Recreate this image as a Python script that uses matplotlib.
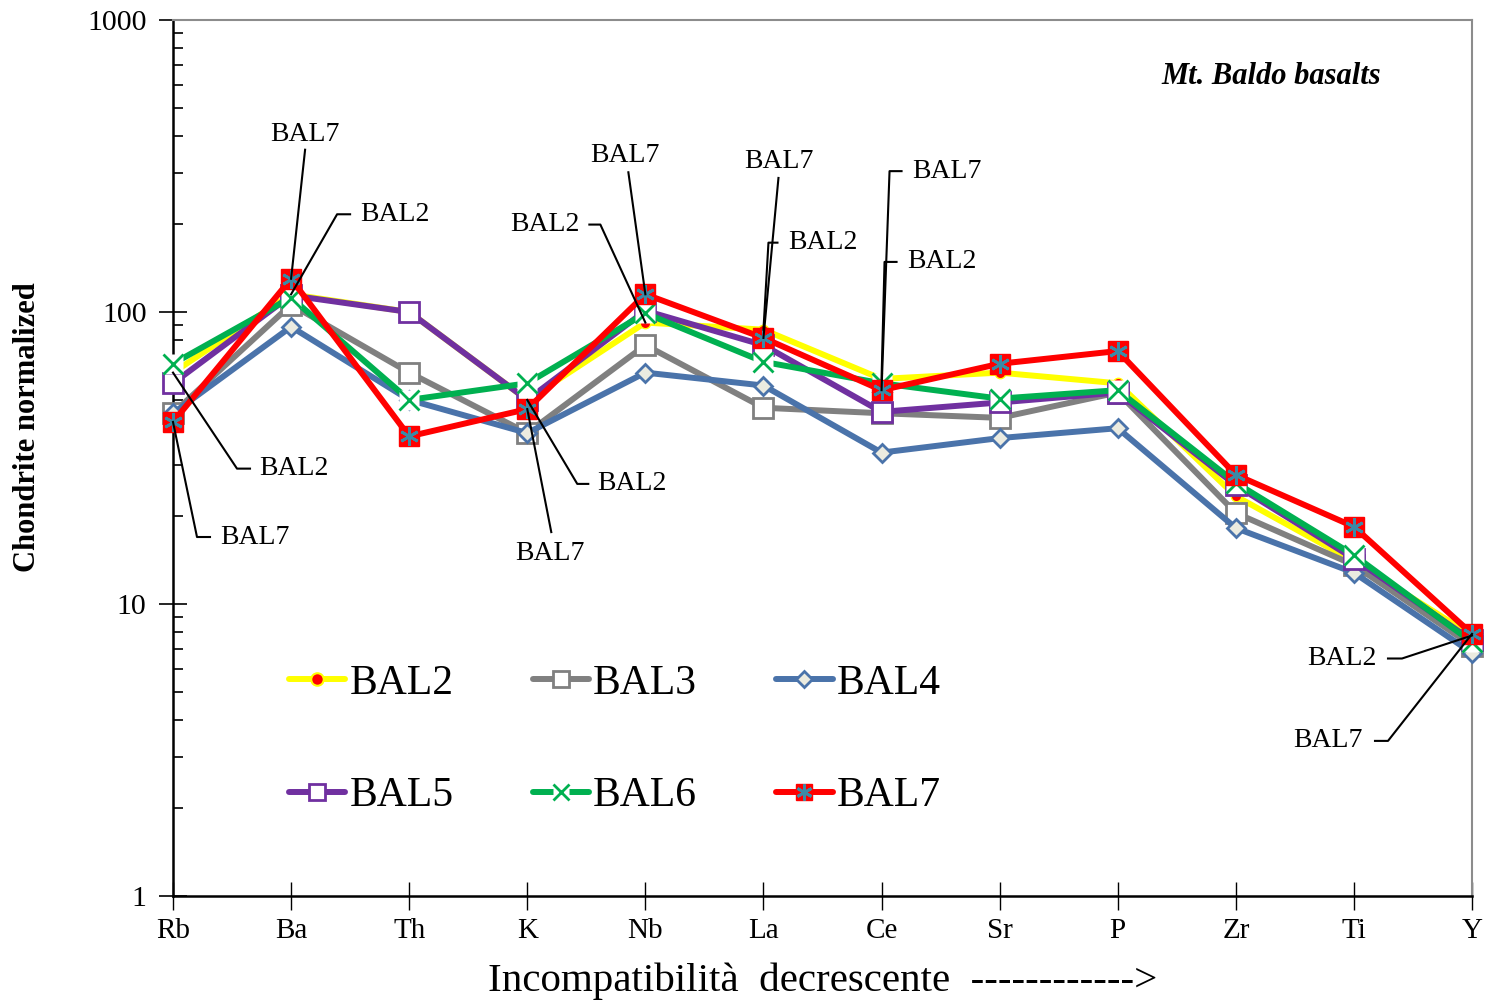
import matplotlib
matplotlib.use('Agg')
import matplotlib.pyplot as plt
from matplotlib.lines import Line2D
from matplotlib.transforms import IdentityTransform
from matplotlib.legend_handler import HandlerTuple
from matplotlib.ticker import FixedLocator, LogLocator, NullFormatter

plt.rcParams['font.family'] = ['Liberation Serif', 'DejaVu Serif']

# data
elements = ['Rb', 'Ba', 'Th', 'K', 'Nb', 'La', 'Ce', 'Sr', 'P', 'Zr', 'Ti', 'Y']
BAL2 = [62, 115, 100, 50, 92, 87, 59, 62, 57, 23.4, 14.0, 7.8]
BAL3 = [45, 106, 62, 38.5, 77, 47, 45, 43.4, 53, 20.5, 13.6, 7.2]
BAL4 = [45, 89, 50, 38.5, 62, 56, 33, 37, 40, 18.2, 12.8, 6.8]
BAL5 = [57, 114, 100, 50, 101, 77, 45.5, 49, 53, 25.5, 14.3, 7.5]
BAL6 = [66.5, 112, 50, 57, 99, 67.5, 57, 50.5, 54, 26, 14.7, 7.4]
BAL7 = [42, 130, 37.5, 46.5, 115, 81.5, 54, 66.5, 73.5, 27.7, 18.4, 7.9]

x = list(range(len(elements)))

fig = plt.figure(figsize=(15.01, 10.02), dpi=100)
ax = fig.add_axes([173 / 1501, 1 - 896 / 1002, 1299 / 1501, 876 / 1002])

lw = 4.3
sq = 14
h2, = ax.plot(x, BAL2, color='#ffff00', lw=lw, marker='o', ms=7.5, mfc='#ff0000',
              mec='#ffff00', mew=1, clip_on=False, zorder=3, solid_capstyle='round')
h3, = ax.plot(x, BAL3, color='#808080', lw=lw, marker='s', ms=sq, mfc='white',
              mec='#808080', mew=2, clip_on=False, zorder=3, solid_capstyle='round')
h4, = ax.plot(x, BAL4, color='#4a73aa', lw=lw, marker='D', ms=9, mfc='#ebebe0',
              mec='#4a73aa', mew=2, clip_on=False, zorder=3, solid_capstyle='round')
h5, = ax.plot(x, BAL5, color='#7030a0', lw=lw, marker='s', ms=sq, mfc='white',
              mec='#7030a0', mew=2, clip_on=False, zorder=3, solid_capstyle='round')
h6a, = ax.plot(x, BAL6, color='#00b050', lw=lw, marker='s', ms=sq, mfc='white',
               mec='none', clip_on=False, zorder=3, solid_capstyle='round')
h6b, = ax.plot(x, BAL6, ls='none', marker='x', ms=14, mec='#00b050', mew=2,
               clip_on=False, zorder=3)
h7a, = ax.plot(x, BAL7, color='#ff0000', lw=lw, marker='s', ms=sq, mfc='#ff0000',
               mec='#ff0000', mew=1, clip_on=False, zorder=4, solid_capstyle='round')
h7b, = ax.plot(x, BAL7, ls='none', marker=(6, 2, 0), ms=13.5, mec='#3b8aa6', mew=2,
               clip_on=False, zorder=4)

ax.set_yscale('log')
ax.set_ylim(1, 1000)
ax.set_xlim(0, len(elements) - 1)
ax.set_xticks(x)
ax.set_xticklabels(elements, fontsize=21)
ax.yaxis.set_major_locator(FixedLocator([1, 10, 100, 1000]))
ax.set_yticklabels(['1', '10', '100', '1000'], fontsize=21.5)
ax.yaxis.set_minor_locator(LogLocator(base=10, subs=range(2, 10)))
ax.yaxis.set_minor_formatter(NullFormatter())
ax.tick_params(axis='y', which='major', direction='inout', length=20, width=1.2, pad=9)
ax.tick_params(axis='y', which='minor', direction='in', length=7, width=1.2)
ax.tick_params(axis='x', which='major', direction='inout', length=20, width=1.0, pad=6)

for s in ['left', 'bottom']:
    ax.spines[s].set_linewidth(1.8)
    ax.spines[s].set_color('black')
for s in ['top', 'right']:
    ax.spines[s].set_linewidth(1.5)
    ax.spines[s].set_color('#8c8c8c')

fig.text(28 / 1501, 1 - 427 / 1002, 'Chondrite normalized', rotation=90, fontsize=22,
         fontweight='bold', ha='center', va='center')
ax.set_xlabel('Incompatibilità  decrescente  ------------>', fontsize=29.5, labelpad=13)

ax.text(0.93, 0.935, 'Mt. Baldo basalts', transform=ax.transAxes, fontsize=22,
        fontweight='bold', style='italic', ha='right', va='center')

# legend filled column by column, so order gives rows BAL2-4 / BAL5-7
leg = ax.legend([h2, h5, h3, (h6a, h6b), h4, (h7a, h7b)],
                ['BAL2', 'BAL5', 'BAL3', 'BAL6', 'BAL4', 'BAL7'],
                handler_map={tuple: HandlerTuple(ndivide=1, pad=0)},
                ncol=3, frameon=False, fontsize=30, loc='upper left',
                bbox_to_anchor=((289 - 173) / 1299, (896 - 664) / 876),
                handlelength=1.35, handletextpad=0.1, columnspacing=1.9,
                labelspacing=1.78, borderpad=0, borderaxespad=0, markerscale=0.85)
leg.legend_handles[0].set_markersize(9)
leg.legend_handles[0].set_markeredgewidth(1.5)

# leader-line data labels: series, element index, knee, tick end, text offset (pixels)
labels = [
    (BAL7, 1, (14, 129), None, (14, 144), 'center'),
    (BAL2, 1, (46, 80), (59, 80), (69, 80), 'left'),
    (BAL2, 0, (64, -96), (77, -96), (86, -96), 'left'),
    (BAL7, 0, (24, -115), (37, -115), (47, -115), 'left'),
    (BAL2, 3, (50, -84), (61, -84), (70, -84), 'left'),
    (BAL7, 3, (24, -123), None, (23, -144), 'center'),
    (BAL2, 4, (-45, 98), (-56, 98), (-66, 98), 'right'),
    (BAL7, 4, (-17, 122), None, (-20, 139), 'center'),
    (BAL7, 5, (15, 160), None, (15, 176), 'center'),
    (BAL2, 5, (5, 87), (14, 87), (25, 87), 'left'),
    (BAL7, 6, (8, 219), (20, 219), (31, 219), 'left'),
    (BAL2, 6, (3, 117), (15, 117), (26, 117), 'left'),
    (BAL2, 11, (-70, -23), (-84, -23), (-95, -23), 'right'),
    (BAL7, 11, (-84, -107), (-97, -107), (-109, -107), 'right'),
]
names = {id(BAL2): 'BAL2', id(BAL7): 'BAL7'}
for ser, i, knee, tick, toff, ha in labels:
    px, py = ax.transData.transform((i, ser[i]))
    xs = [px, px + knee[0]]
    ys = [py, py + knee[1]]
    if tick is not None:
        xs.append(px + tick[0])
        ys.append(py + tick[1])
    fig.add_artist(Line2D(xs, ys, transform=IdentityTransform(), color='black',
                          lw=1.5, zorder=5))
    fig.text(px + toff[0], py + toff[1], names[id(ser)], transform=IdentityTransform(),
             fontsize=20, ha=ha, va='center', zorder=6)

fig.savefig('out.png', dpi=100)
